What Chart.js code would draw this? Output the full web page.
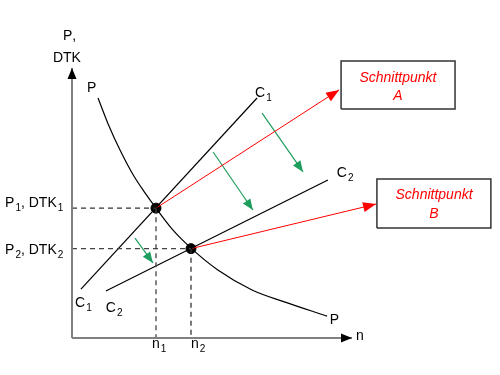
<!DOCTYPE html>
<html>
<head>
<meta charset="utf-8">
<script src="https://cdn.jsdelivr.net/npm/chart.js@4/dist/chart.umd.min.js"></script>
<style>
  html, body { margin: 0; padding: 0; background: #fff; }
  #wrap { width: 500px; height: 375px; }
</style>
</head>
<body>
<div id="wrap"><canvas id="c" width="500" height="375"></canvas></div>
<script>
// price curve P
const pX = [0.93, 1.29, 1.75, 2.21, 2.64, 3.0, 3.57, 4.25, 5.21, 6.43, 7.61, 9.11];
const pY = [8.89, 7.93, 6.89, 6.00, 5.33, 4.81, 4.04, 3.33, 2.52, 1.78, 1.33, 0.81];

// cost lines
const c1X = [0.32, 6.61];
const c1Y = [1.81, 8.89];
const c2X = [1.21, 9.14];
const c2Y = [1.74, 5.85];

// intersections
const nA = 3.0, pA = 4.81;
const nB = 4.25, pB = 3.31;

// arrows to the boxes
const redAX = [nA, 9.54], redAY = [pA, 9.19];
const redBX = [nB, 10.86], redBY = [pB, 4.96];

// shift arrows
const g1X = [6.79, 8.25], g1Y = [8.33, 6.15];
const g2X = [5.04, 6.46], g2Y = [6.89, 4.74];
const g3X = [2.25, 2.89], g3Y = [3.70, 2.78];

// boxes
const boxAX = [9.61, 13.68], boxAY = [8.48, 10.26];
const boxBX = [10.89, 14.96], boxBY = [4.07, 5.89];

// text labels: [x, y, text]  (_ = next char subscript)
const labels = [
  [-0.32, 11.04, 'P,'],
  [-0.68, 10.22, 'DTK'],
  [0.54, 9.11, 'P'],
  [6.54, 8.93, 'C_1'],
  [9.46, 5.96, 'C_2'],
  [0.11, 1.15, 'C_1'],
  [1.21, 0.96, 'C_2'],
  [9.21, 0.52, 'P'],
  [10.14, -0.07, 'n'],
  [2.86, -0.37, 'n_1'],
  [4.25, -0.37, 'n_2'],
  [-2.39, 4.85, 'P_1, DTK_1'],
  [-2.39, 3.11, 'P_2, DTK_2'],
];
const boxLabels = [
  [11.64, 9.48, 'Schnittpunkt'],
  [11.64, 8.81, 'A'],
  [12.93, 5.15, 'Schnittpunkt'],
  [12.93, 4.44, 'B'],
];

const FONT = '"Liberation Sans", Arial, sans-serif';

function pts(xs, ys) {
  return xs.map((x, i) => ({ x: x, y: ys[i] }));
}
function rect(xs, ys) {
  return [
    { x: xs[0], y: ys[0] }, { x: xs[1], y: ys[0] },
    { x: xs[1], y: ys[1] }, { x: xs[0], y: ys[1] }, { x: xs[0], y: ys[0] },
  ];
}
function line(data, color, width, extra) {
  return Object.assign({
    data: data, showLine: true, borderColor: color, borderWidth: width,
    pointRadius: 0, fill: false, tension: 0,
  }, extra || {});
}

const datasets = [
  // axes
  line(pts([0, 0], [0, 10]), '#808080', 2, { arrow: { len: 11, half: 4.5, color: '#000' } }),
  line(pts([0, 10], [0, 0]), '#808080', 2, { arrow: { len: 11, half: 4.5, color: '#000' } }),
  // dashed guides
  line(pts([0, nA], [pA, pA]), '#333', 1.3, { borderDash: [5, 4] }),
  line(pts([nA, nA], [pA, 0]), '#444', 1.3, { borderDash: [5, 4] }),
  line(pts([0, nB], [pB, pB]), '#444', 1.3, { borderDash: [5, 4] }),
  line(pts([nB, nB], [pB, 0]), '#333', 1.3, { borderDash: [5, 4] }),
  // curves
  line(pts(pX, pY), '#000', 1.2, { cubicInterpolationMode: 'monotone' }),
  line(pts(c1X, c1Y), '#000', 1.2),
  line(pts(c2X, c2Y), '#000', 1.2),
  // red arrows
  line(pts(redAX, redAY), '#ff0000', 1, { arrow: { len: 13, half: 5, color: '#ff0000' } }),
  line(pts(redBX, redBY), '#ff0000', 1, { arrow: { len: 13, half: 5, color: '#ff0000' } }),
  // green arrows
  line(pts(g1X, g1Y), '#1e9e5e', 1.2, { arrow: { len: 11, half: 4.5, color: '#1e9e5e' } }),
  line(pts(g2X, g2Y), '#1e9e5e', 1.2, { arrow: { len: 11, half: 4.5, color: '#1e9e5e' } }),
  line(pts(g3X, g3Y), '#1e9e5e', 1.2, { arrow: { len: 11, half: 4.5, color: '#1e9e5e' } }),
  // boxes
  line(rect(boxAX, boxAY), '#333', 1.5),
  line(rect(boxBX, boxBY), '#333', 1.5),
  // intersection dots
  { data: pts([nA, nB], [pA, pB]), pointRadius: 5, pointBackgroundColor: '#000',
    pointBorderColor: '#000', showLine: false },
];

const decor = {
  id: 'decor',
  afterDatasetsDraw(chart) {
    const ctx = chart.ctx;
    const xs = chart.scales.x, ys = chart.scales.y;
    ctx.save();
    // arrow heads
    chart.data.datasets.forEach(ds => {
      if (!ds.arrow) return;
      const n = ds.data.length;
      const a = ds.data[n - 2], b = ds.data[n - 1];
      const x0 = xs.getPixelForValue(a.x), y0 = ys.getPixelForValue(a.y);
      const x1 = xs.getPixelForValue(b.x), y1 = ys.getPixelForValue(b.y);
      const ang = Math.atan2(y1 - y0, x1 - x0);
      const { len, half, color } = ds.arrow;
      ctx.fillStyle = color;
      ctx.beginPath();
      ctx.moveTo(x1, y1);
      ctx.lineTo(x1 - len * Math.cos(ang) + half * Math.sin(ang), y1 - len * Math.sin(ang) - half * Math.cos(ang));
      ctx.lineTo(x1 - len * Math.cos(ang) - half * Math.sin(ang), y1 - len * Math.sin(ang) + half * Math.cos(ang));
      ctx.closePath();
      ctx.fill();
    });
    // labels with subscripts
    ctx.fillStyle = '#000';
    ctx.textBaseline = 'alphabetic';
    ctx.textAlign = 'left';
    labels.forEach(([x, y, txt]) => {
      let px = xs.getPixelForValue(x);
      const py = ys.getPixelForValue(y);
      for (let i = 0; i < txt.length; i++) {
        if (txt[i] === '_') {
          i++;
          ctx.font = '10px ' + FONT;
          ctx.fillText(txt[i], px + 1, py + 4);
          px += ctx.measureText(txt[i]).width + 1;
        } else {
          ctx.font = '14px ' + FONT;
          ctx.fillText(txt[i], px, py);
          px += ctx.measureText(txt[i]).width;
        }
      }
    });
    ctx.fillStyle = '#ff0000';
    ctx.textAlign = 'center';
    ctx.font = 'italic 14px ' + FONT;
    boxLabels.forEach(([x, y, txt]) => {
      ctx.fillText(txt, xs.getPixelForValue(x), ys.getPixelForValue(y));
    });
    ctx.restore();
  }
};

new Chart(document.getElementById('c'), {
  type: 'scatter',
  data: { datasets: datasets },
  options: {
    responsive: false,
    animation: false,
    layout: { padding: 0, autoPadding: false },
    plugins: { legend: { display: false }, tooltip: { enabled: false } },
    elements: { line: { borderCapStyle: 'butt' } },
    scales: {
      x: { type: 'linear', display: false, min: -2.571, max: 15.286 },
      y: { type: 'linear', display: false, min: -1.370, max: 12.519 },
    },
  },
  plugins: [decor],
});
</script>
</body>
</html>
